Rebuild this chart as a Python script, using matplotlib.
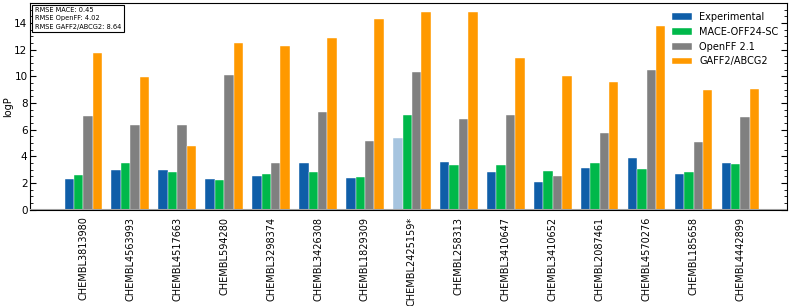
import numpy as np
import matplotlib
matplotlib.use("Agg")
import matplotlib.pyplot as plt
from matplotlib.ticker import MultipleLocator

molecules = ["CHEMBL3813980", "CHEMBL4563993", "CHEMBL4517663", "CHEMBL594280",
             "CHEMBL3298374", "CHEMBL3426308", "CHEMBL1829309", "CHEMBL2425159*",
             "CHEMBL258313", "CHEMBL3410647", "CHEMBL3410652", "CHEMBL2087461",
             "CHEMBL4570276", "CHEMBL185658", "CHEMBL4442899"]
experimental = [2.3, 2.98, 2.98, 2.3, 2.5, 3.5, 2.4, 5.4, 3.58, 2.8, 2.1, 3.1, 3.9, 2.65, 3.5]
mace = [2.63, 3.48, 2.85, 2.2, 2.65, 2.8, 2.45, 7.13, 3.33, 3.33, 2.93, 3.5, 3.03, 2.85, 3.45]
openff = [7.03, 6.35, 6.35, 10.08, 3.48, 7.33, 5.13, 10.3, 6.8, 7.1, 2.55, 5.75, 10.5, 5.1, 6.93]
gaff = [11.75, 9.93, 4.75, 12.5, 12.25, 12.88, 14.33, 14.83, 14.85, 11.35, 10.05, 9.58, 13.8, 9.0, 9.05]
highlight = "CHEMBL2425159*"
rmse_text = "RMSE MACE: 0.45\nRMSE OpenFF: 4.02\nRMSE GAFF2/ABCG2: 8.64"

c_exp = "#0f5ea8"
c_exp_light = "#a6c4df"
c_mace = "#00b84a"
c_off = "#808080"
c_gaff = "#ff9900"

x = np.arange(len(molecules))
w = 0.2

fig, ax = plt.subplots(figsize=(7.97, 3.06), dpi=100)

exp_colors = [c_exp_light if m == highlight else c_exp for m in molecules]
ax.bar(x - 1.5 * w, experimental, w, color=exp_colors, label="Experimental",
       edgecolor="white", linewidth=0.3)
ax.bar(x - 0.5 * w, mace, w, color=c_mace, label="MACE-OFF24-SC",
       edgecolor="white", linewidth=0.3)
ax.bar(x + 0.5 * w, openff, w, color=c_off, label="OpenFF 2.1",
       edgecolor="white", linewidth=0.3)
ax.bar(x + 1.5 * w, gaff, w, color=c_gaff, label="GAFF2/ABCG2",
       edgecolor="white", linewidth=0.3)

leg = ax.legend(loc="upper right", frameon=False, fontsize=7, borderaxespad=0.5)
leg.legend_handles[0].set_facecolor(c_exp)

ax.set_xticks(x)
ax.set_xticklabels(molecules, rotation=90, fontsize=7)
ax.set_xlim(-1.13, len(molecules))
ax.set_ylim(0, 15.5)
ax.set_ylabel("logP", fontsize=7, labelpad=1)
ax.yaxis.set_major_locator(MultipleLocator(2))
ax.yaxis.set_minor_locator(MultipleLocator(0.5))
ax.tick_params(axis="y", which="both", direction="in", left=True, right=True, labelsize=7.5)
ax.tick_params(axis="y", which="major", length=4, pad=2)
ax.tick_params(axis="y", which="minor", length=2)
ax.tick_params(axis="x", length=0, pad=5)
ax.axhline(0, color="#a0a0a0", linewidth=1.5, zorder=3)

ax.text(0.006, 0.98, rmse_text, transform=ax.transAxes, fontsize=4.8,
        va="top", ha="left", linespacing=1.45,
        bbox=dict(boxstyle="square,pad=0.35", facecolor="white", edgecolor="black", linewidth=0.8))

plt.subplots_adjust(left=0.038, right=0.988, top=0.99, bottom=0.315)
fig.savefig("out.png", dpi=100)
